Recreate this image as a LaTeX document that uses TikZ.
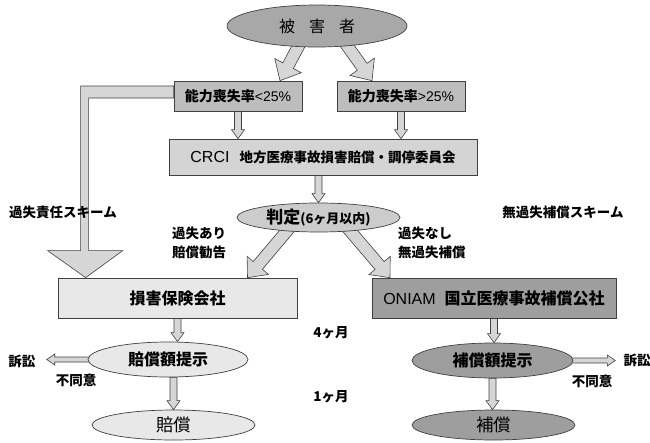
\documentclass[tikz,border=0pt]{standalone}
\usepackage{fontspec}
\setmainfont{Noto Sans CJK JP}
\newfontfamily\latinfont{Liberation Sans}
\usetikzlibrary{shapes.geometric,calc}
\pgfdeclarelayer{background}
\pgfsetlayers{background,main}

\definecolor{victimfill}{gray}{0.66}
\definecolor{ratefill}{gray}{0.74}
\definecolor{crcifill}{gray}{0.83}
\definecolor{judgefill}{gray}{0.80}
\definecolor{palefill}{gray}{0.91}
\definecolor{deepfill}{gray}{0.62}
\definecolor{arrowfill}{gray}{0.84}

% block arrow: [style]{from}{to}{shaft half width}{head half width}{head length}
\newcommand{\fatarrow}[6][]{%
  \coordinate (fa-h) at ($(#3)!#6!(#2)$);
  \filldraw[fatbody,#1] ($(#2)!#4!90:(#3)$) -- ($(fa-h)!#4!-90:(#2)$)
    -- ($(fa-h)!#5!-90:(#2)$) -- (#3) -- ($(fa-h)!#5!90:(#2)$)
    -- ($(fa-h)!#4!90:(#2)$) -- ($(#2)!#4!-90:(#3)$) -- cycle;}

\begin{document}
\begin{tikzpicture}[x=1pt,y=-1pt,
  oval/.style={ellipse,draw=black!75,line width=.7pt,inner sep=0pt},
  panel/.style={draw=black!75,line width=.7pt,inner sep=0pt},
  note/.style={font=\bfseries\fontsize{13.5}{19}\selectfont,inner sep=0pt,align=left},
  fatbody/.style={fill=arrowfill,draw=black!75,line width=.6pt}
]
  \useasboundingbox (0,0) rectangle (650,442);

  \node[oval,fill=victimfill,minimum width=180,minimum height=42] (victim) at (317,26)
    {\fontsize{16}{16}\selectfont 被\hspace{14pt}害\hspace{14pt}者};
  \node[panel,fill=ratefill,minimum width=128,minimum height=30,font=\fontsize{14}{14}\selectfont] (lowbox) at (238,96)
    {\textbf{能力喪失率}{\latinfont <25\%}};
  \node[panel,fill=ratefill,minimum width=128,minimum height=30,font=\fontsize{14}{14}\selectfont] (highbox) at (401,96)
    {\textbf{能力喪失率}{\latinfont >25\%}};
  \node[panel,fill=crcifill,minimum width=308,minimum height=36,font=\fontsize{13.5}{14}\selectfont] (crci) at (323,157)
    {{\latinfont\fontsize{16}{16}\selectfont CRCI}\hspace{10pt}\textbf{地方医療事故損害賠償・調停委員会}};
  \node[oval,fill=judgefill,minimum width=163,minimum height=29,font=\bfseries\fontsize{13}{13}\selectfont] (judge) at (318.5,217.5)
    {{\fontsize{17}{17}\selectfont 判定}(6ヶ月以内)};
  \node[panel,fill=palefill,minimum width=239,minimum height=40,font=\bfseries\fontsize{16}{16}\selectfont] (insurer) at (177.5,298)
    {損害保険会社};
  \node[panel,fill=deepfill,minimum width=244,minimum height=40,font=\fontsize{16}{16}\selectfont] (oniam) at (494,298)
    {{\latinfont ONIAM}\hspace{9pt}\textbf{国立医療事故補償公社}};
  \node[oval,fill=palefill,minimum width=160,minimum height=35,font=\bfseries\fontsize{16}{16}\selectfont] (offerL) at (168,359.5)
    {賠償額提示};
  \node[oval,fill=deepfill,minimum width=161,minimum height=35,font=\bfseries\fontsize{16}{16}\selectfont] (offerR) at (492.5,360.5)
    {補償額提示};
  \node[oval,fill=palefill,minimum width=163,minimum height=30,font=\fontsize{17.5}{17.5}\selectfont] (payL) at (173.5,425)
    {賠償};
  \node[oval,fill=deepfill,minimum width=163,minimum height=30,font=\fontsize{17.5}{17.5}\selectfont] (payR) at (493.5,425)
    {補償};

  % side labels
  \node[note] (faultscheme) at (63,212) {過失責任スキーム};
  \node[note] (nofaultscheme) at (563,212) {無過失補償スキーム};
  \node[note,anchor=west] (faultyes) at (172,242.5) {過失あり\\賠償勧告};
  \node[note,anchor=west] (faultno) at (398,242.5) {過失なし\\無過失補償};
  \node[note] (fourmonths) at (331,333) {4ヶ月};
  \node[note] (onemonth) at (331,397) {1ヶ月};
  \node[note] (suitL) at (22,361) {訴訟};
  \node[note] (refuseL) at (76,380) {不同意};
  \node[note] (suitR) at (637,360) {訴訟};
  \node[note] (refuseR) at (592,381) {不同意};

  \begin{pgfonlayer}{background}
    % victim -> rate boxes
    \coordinate (vl) at ($(victim.center)!.8!(victim.225)$);
    \coordinate (vr) at ($(victim.center)!.8!(victim.330)$);
    \coordinate (vltip) at ($(lowbox.north)+(42,0)$);
    \coordinate (vrtip) at ($(highbox.north)+(-29,0)$);
    \fatarrow{vl}{vltip}{6pt}{15pt}{17pt}
    \fatarrow{vr}{vrtip}{6pt}{15pt}{17pt}

    % fault scheme band
    \coordinate (bandtip) at ($(insurer.north west)+(28,0)$);
    \filldraw[fatbody] ($(lowbox.west)+(0,-10)$) -| ($(bandtip)+(-5,-27)$)
      -- ($(bandtip)+(-38,-27)$) -- (bandtip) -- ($(bandtip)+(37,-27)$)
      -- ($(bandtip)+(3,-27)$) |- ($(lowbox.west)+(0,2)$) -- cycle;

    % rate boxes -> CRCI -> judgement
    \coordinate (lowend) at (lowbox.south |- crci.north);
    \coordinate (highend) at (highbox.south |- crci.north);
    \coordinate (crciout) at (crci.south -| judge.north);
    \fatarrow{lowbox.south}{lowend}{3.5pt}{6.5pt}{9pt}
    \fatarrow{highbox.south}{highend}{3.5pt}{6.5pt}{9pt}
    \fatarrow{crciout}{judge.north}{3.5pt}{6.5pt}{9pt}

    % judgement -> insurer / ONIAM
    \coordinate (jl) at ($(judge.center)!.8!(judge.200)$);
    \coordinate (jr) at ($(judge.center)!.8!(judge.340)$);
    \coordinate (jltip) at ($(insurer.north)+(70,0)$);
    \coordinate (jrtip) at ($(oniam.north)+(-104,0)$);
    \fatarrow{jl}{jltip}{6pt}{14pt}{16pt}
    \fatarrow{jr}{jrtip}{6pt}{14pt}{16pt}

    % offers and payments
    \coordinate (insend) at (insurer.south |- offerL.north);
    \coordinate (offLout) at (offerL.south -| payL.north);
    \coordinate (oniend) at (oniam.south |- offerR.north);
    \coordinate (offRend) at (offerR.south |- payR.north);
    \fatarrow{insurer.south}{insend}{3.5pt}{6.5pt}{9pt}
    \fatarrow{offLout}{payL.north}{3.5pt}{6.5pt}{9pt}
    \fatarrow{oniam.south}{oniend}{3.5pt}{6.5pt}{9pt}
    \fatarrow{offerR.south}{offRend}{3.5pt}{6.5pt}{9pt}

    % refusal -> lawsuit
    \coordinate (suitLin) at ($(offerL.west)+(4,0)$);
    \coordinate (suitLtip) at ($(suitL.east |- offerL.west)+(11,0)$);
    \coordinate (suitRin) at ($(offerR.east)+(-4,0)$);
    \coordinate (suitRtip) at ($(suitR.west |- offerR.east)+(-8,0)$);
    \fatarrow{suitLin}{suitLtip}{2.5pt}{5.5pt}{8pt}
    \fatarrow{suitRin}{suitRtip}{2.5pt}{5.5pt}{8pt}
  \end{pgfonlayer}
\end{tikzpicture}
\end{document}
